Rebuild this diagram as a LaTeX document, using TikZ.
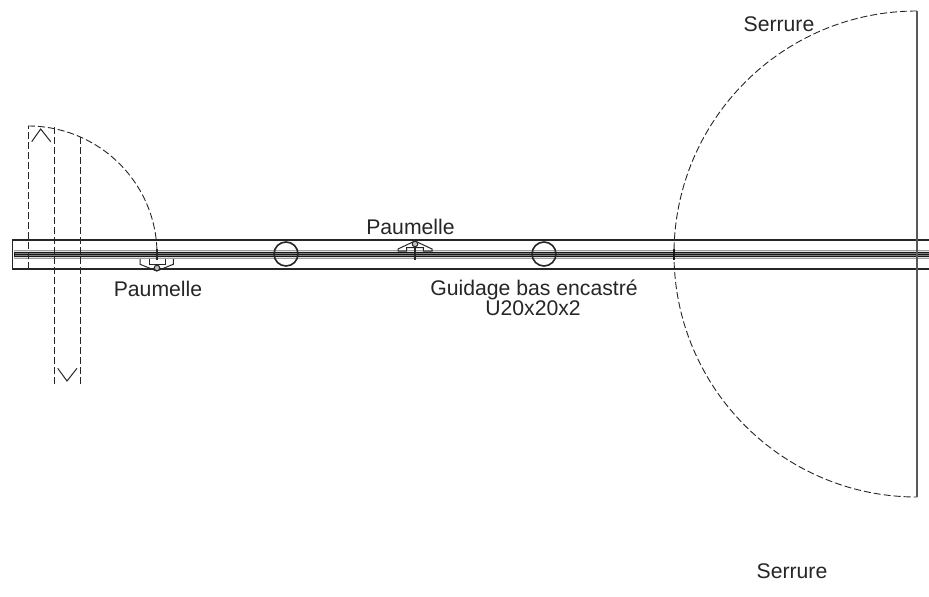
\documentclass[tikz,border=0pt]{standalone}
\usepackage{fontspec}
\setmainfont{Liberation Sans}
\tikzset{
  lab/.style={font=\fontsize{21.2}{22}\selectfont, text=black!85, inner sep=0pt, anchor=base},
  solidline/.style={draw=black!85, line width=1.1pt},
  thinline/.style={draw=black!85, line width=1pt},
  dashline/.style={draw=black!85, line width=.9pt, dash pattern=on 7pt off 3pt},
}
\begin{document}
\begin{tikzpicture}[x=1pt,y=-1pt]
\useasboundingbox (0,0) rectangle (929,597);
% bar
\draw[solidline] (929,240) -- (12.5,240) -- (12.5,269) -- (929,269);
\fill[black!38] (14,250) rectangle (929,259);
\fill[black!12] (14,251.2) rectangle (929,252);
\fill[black!12] (14,257) rectangle (929,257.8);
\draw[draw=black!90,line width=1.1pt] (929,252.6) -- (14.5,252.6) -- (14.5,256.4) -- (929,256.4);
\fill[black!50] (14.5,253.2) rectangle (929,255.8);
\draw[draw=black!90,line width=.7pt] (14.5,254.5) -- (929,254.5);
% circles
\draw[solidline,line width=1.6pt] (286,254) circle (12);
\draw[solidline,line width=1.6pt] (544,254) circle (12);
% left door
\draw[dashline] (28,269) -- (28,126);
\draw[dashline] (54.3,384) -- (54.3,127);
\draw[dashline] (80.3,384) -- (80.3,137);
\draw[dashline] (28,126) arc[start angle=-90,end angle=0,x radius=129,y radius=128];
\draw[thinline] (31.7,141.7) -- (40.7,129) -- (50.7,141.7);
\draw[thinline] (57.7,368.3) -- (67,381) -- (77,368.3);
% hinges
\draw[thinline] (140,259) -- (140,264.3) -- (156.7,271) -- (173.3,264.3) -- (173.3,259);
\draw[thinline] (149,259) -- (149,264.3) -- (165,264.3) -- (165,259);
\draw[thinline,fill=black!25] (157,268) circle (2.8);
\draw[thinline,line width=1.3pt] (157,249) -- (157,260);
\draw[thinline] (398,251) -- (398,249) -- (415,241) -- (432,249) -- (432,251) -- (423.3,251) -- (423.3,247.7) -- (406.7,247.7) -- (406.7,251) -- cycle;
\draw[thinline,fill=black!25] (415,244) circle (2.8);
\draw[thinline,line width=1.3pt] (415,247) -- (415,260);
% right door
\draw[dashline] (917,11) arc[start angle=-90,end angle=-270,radius=243];
\draw[draw=black!65,line width=1.3pt] (917,11) -- (917,497);
\draw[draw=black!90,line width=1.2pt] (674,249) -- (674,260);
% labels
\node[lab] (p1) at (158,296) {Paumelle};
\node[lab] (p2) at (410.5,234) {Paumelle};
\node[lab] (g1) at (534,295) {Guidage bas encastré};
\node[lab] (g2) at (533,315) {U20x20x2};
\node[lab] (s1) at (779,31) {Serrure};
\node[lab] (s2) at (792,578) {Serrure};
\end{tikzpicture}
\end{document}
